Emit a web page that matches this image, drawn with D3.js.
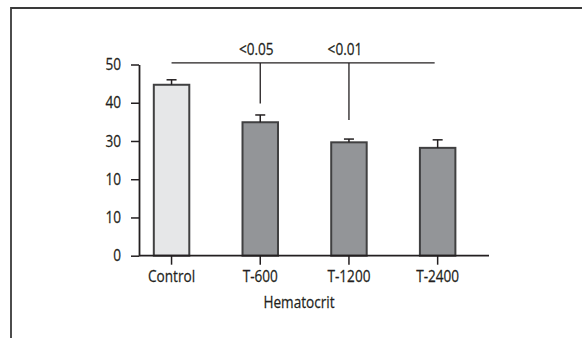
<!DOCTYPE html>
<html>
<head>
<meta charset="utf-8">
<script src="https://cdn.jsdelivr.net/npm/d3@7"></script>
<style>
  html, body { margin: 0; padding: 0; background: #ffffff; }
  svg { display: block; }
  text { font-family: "Open Sans", "Noto Sans", "Liberation Sans", sans-serif; fill: #231f20; }
</style>
</head>
<body>
<svg id="chart" width="582" height="338"></svg>
<script>
// ---- data ----
const categories = ["Control", "T-600", "T-1200", "T-2400"];
const means      = [44.7, 34.9, 29.65, 28.2];
const errors     = [1.3, 1.9, 0.85, 2.1];
const yTickValues = [0, 10, 20, 30, 40, 50];
const yTickLabels = ["0", "10", "10", "30", "40", "50"];
const xTitle = "Hematocrit";
// significance bracket: spans from first to last category, drops to given categories
const bracketLevel = 50.4;
const sigLabels = ["<0.05", "<0.01"];
const sigTargets = ["T-600", "T-1200"];
const sigDropTo  = [39.8, 35.5];

// ---- layout / style ----
const svg = d3.select("#chart");
const ink = "#231f20";
const barStroke = "#404041";
const fills = ["#e6e7e8", "#939598", "#939598", "#939598"];
const fontSize = 16.2;
const squeeze = 0.84;
const fontFam = "'Open Sans', 'Noto Sans', 'Liberation Sans', sans-serif";

// horizontally condense text around its anchor point
function condense(sel) {
  sel.each(function () {
    const t = d3.select(this);
    const tx = +t.attr("x") || 0, ty = +t.attr("y") || 0;
    t.attr("x", 0).attr("y", 0)
     .attr("transform", `translate(${tx},${ty}) scale(${squeeze},1)`)
     .attr("stroke", ink).attr("stroke-width", 0.25);
  });
}

// frame (partial box as in reference)
svg.append("path")
  .attr("d", "M11,338 L11,8 L582,8")
  .attr("fill", "none")
  .attr("stroke", "#3a3a3a")
  .attr("stroke-width", 1.8);

const y = d3.scaleLinear().domain([0, 50]).range([255.7, 64.5]);
const x = d3.scaleBand().domain(categories).range([127.2, 482]).paddingInner(0).paddingOuter(0);
const cx = d => x(d) + x.bandwidth() / 2;
const barW = x.bandwidth() * 0.4;
const axisX0 = 139, axisX1 = 489;

const g = svg.append("g");

// bars
g.selectAll("rect.bar").data(categories).join("rect")
  .attr("class", "bar")
  .attr("x", d => cx(d) - barW / 2)
  .attr("width", barW)
  .attr("y", (d, i) => y(means[i]))
  .attr("height", (d, i) => y(0) - y(means[i]))
  .attr("fill", (d, i) => fills[i])
  .attr("stroke", barStroke)
  .attr("stroke-width", 2);

// error bars (upper only)
const capW = 10;
categories.forEach((c, i) => {
  g.append("line")
    .attr("x1", cx(c)).attr("x2", cx(c))
    .attr("y1", y(means[i])).attr("y2", y(means[i] + errors[i]))
    .attr("stroke", ink).attr("stroke-width", 1.5);
  g.append("line")
    .attr("x1", cx(c) - capW / 2).attr("x2", cx(c) + capW / 2)
    .attr("y1", y(means[i] + errors[i])).attr("y2", y(means[i] + errors[i]))
    .attr("stroke", ink).attr("stroke-width", 1.5);
});

// y axis
const yAxis = d3.axisLeft(y)
  .tickValues(yTickValues)
  .tickFormat((d, i) => yTickLabels[i])
  .tickSize(8).tickSizeOuter(0).tickPadding(10);
const ya = svg.append("g").attr("transform", `translate(${axisX0},0)`).call(yAxis);
ya.select(".domain").attr("stroke", ink).attr("stroke-width", 1.8);
ya.selectAll(".tick line").attr("stroke", ink).attr("stroke-width", 1.5);
ya.selectAll(".tick text").attr("font-size", fontSize).attr("fill", ink)
  .attr("font-family", fontFam).call(condense);

// x axis
const xAxis = d3.axisBottom(x).tickSize(9).tickSizeOuter(0).tickPadding(6);
const xa = svg.append("g").attr("transform", `translate(0,${y(0)})`).call(xAxis);
xa.select(".domain").remove();
xa.selectAll(".tick line").attr("stroke", ink).attr("stroke-width", 1.5);
xa.selectAll(".tick text").attr("font-size", fontSize).attr("fill", ink)
  .attr("font-family", fontFam).call(condense);
svg.append("line")
  .attr("x1", axisX0).attr("x2", axisX1)
  .attr("y1", y(0)).attr("y2", y(0))
  .attr("stroke", ink).attr("stroke-width", 1.8);

// x title
svg.append("text")
  .attr("x", 299).attr("y", 308)
  .attr("text-anchor", "middle")
  .attr("font-size", fontSize)
  .text(xTitle)
  .call(condense);

// significance bracket
svg.append("line")
  .attr("x1", cx(categories[0])).attr("x2", cx(categories[categories.length - 1]) - 3)
  .attr("y1", y(bracketLevel)).attr("y2", y(bracketLevel))
  .attr("stroke", ink).attr("stroke-width", 1.3);
sigTargets.forEach((t, i) => {
  svg.append("line")
    .attr("x1", cx(t)).attr("x2", cx(t))
    .attr("y1", y(bracketLevel)).attr("y2", y(sigDropTo[i]))
    .attr("stroke", ink).attr("stroke-width", 1.3);
  svg.append("text")
    .attr("x", cx(t) - 4).attr("y", y(bracketLevel) - 8)
    .attr("text-anchor", "middle")
    .attr("font-size", fontSize)
    .text(sigLabels[i])
    .call(condense);
});
</script>
</body>
</html>
